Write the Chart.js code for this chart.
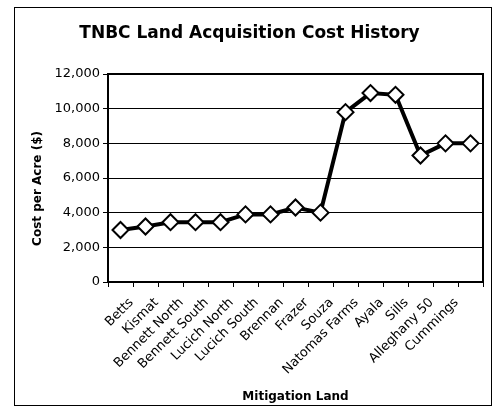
<!DOCTYPE html>
<html>
<head>
<meta charset="utf-8">
<script src="https://cdn.jsdelivr.net/npm/chart.js@4/dist/chart.umd.min.js"></script>
<style>
  body { margin: 0; background: #fff; }
  #wrap { position: relative; width: 493px; height: 415px; }
  #frame { position: absolute; left: 14px; top: 7px; width: 476px; height: 397px; border: 1px solid #000; pointer-events: none; }
</style>
</head>
<body>
<div id="wrap">
  <canvas id="myChart" width="493" height="415"></canvas>
  <div id="frame"></div>
</div>
<script>
// TNBC land acquisition cost per acre

const sites = ['Betts', 'Kismat', 'Bennett North', 'Bennett South', 'Lucich North', 'Lucich South',
    'Brennan', 'Frazer', 'Souza', 'Natomas Farms', 'Ayala', 'Sills', 'Alleghany 50', 'Cummings', ''];
const costPerAcre = [3000, 3200, 3450, 3450, 3450, 3900, 3900, 4300, 4000, 9800, 10900, 10800, 7300, 8000, 8000];
const yTicks = [0, 2000, 4000, 6000, 8000, 10000, 12000];

const fontName = "'DejaVu Sans', Verdana, sans-serif";

// box around the plot area
const plotBorder = {
    id: 'plotBorder',
    afterDraw(chart) {
        const {ctx, chartArea: a} = chart;
        ctx.save();
        ctx.strokeStyle = '#000';
        ctx.lineWidth = 2;
        ctx.strokeRect(a.left, a.top, a.right - a.left, a.bottom - a.top);
        ctx.restore();
    }
};

const ctx = document.getElementById('myChart').getContext('2d');

const myChart = new Chart(ctx, {
    type: 'line',
    data: {
        labels: sites,
        datasets: [{
            data: costPerAcre,
            borderColor: '#000',
            borderWidth: 4,
            tension: 0,
            pointStyle: 'rectRot',
            pointRadius: 8,
            pointBorderWidth: 2,
            pointBackgroundColor: '#fff',
            pointBorderColor: '#000'
        }]
    },
    options: {
        responsive: false,
        animation: false,
        layout: { padding: { left: 16, right: 10, top: 0, bottom: 0 } },
        plugins: {
            legend: { display: false },
            tooltip: { enabled: false },
            title: {
                display: true,
                text: 'TNBC Land Acquisition Cost History',
                color: '#000',
                font: { family: fontName, size: 17, weight: 'bold' },
                padding: { top: 23, bottom: 30.6 }
            }
        },
        scales: {
            x: {
                offset: true,
                grid: { display: true, drawOnChartArea: false, drawTicks: true, tickLength: 5, offset: true, color: '#000' },
                border: { color: '#000', width: 2 },
                ticks: {
                    color: '#000',
                    autoSkip: false,
                    minRotation: 45,
                    maxRotation: 45,
                    padding: 8,
                    labelOffset: 11,
                    font: { family: fontName, size: 13 }
                },
                title: {
                    display: true,
                    text: 'Mitigation Land',
                    color: '#000',
                    font: { family: fontName, size: 12, weight: 'bold' },
                    padding: { top: 4, bottom: 11 }
                },
                afterFit: function (scale) { scale.height = 133; }
            },
            y: {
                min: 0,
                max: 12000,
                afterBuildTicks: function (scale) {
                    scale.ticks = yTicks.map(v => ({ value: v }));
                },
                grid: { color: '#000', lineWidth: 1, tickLength: 5 },
                border: { color: '#000', width: 2 },
                ticks: {
                    color: '#000',
                    padding: 3,
                    font: { family: fontName, size: 13 },
                    callback: function (value) {
                        return value.toLocaleString('en-US');
                    }
                },
                title: {
                    display: true,
                    text: 'Cost per Acre ($)     ',
                    color: '#000',
                    font: { family: fontName, size: 12, weight: 'bold' },
                    padding: { top: 15, bottom: 4 }
                },
                afterFit: function (scale) { scale.width = 92; }
            }
        }
    },
    plugins: [plotBorder]
});
</script>
</body>
</html>
